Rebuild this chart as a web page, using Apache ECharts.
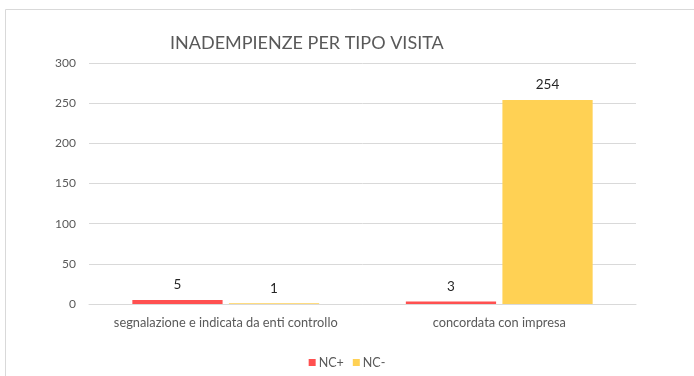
<!DOCTYPE html>
<html>
<head>
<meta charset="utf-8">
<script src="https://cdn.jsdelivr.net/npm/echarts@6/dist/echarts.min.js"></script>
<style>
  html, body { margin: 0; padding: 0; background: #fff; }
  #chart { width: 694px; height: 376px; }
</style>
</head>
<body>
<div id="chart"></div>
<script>
// Visit types and non-compliance counts
const categories = ['segnalazione e indicata da enti controllo', 'concordata con impresa'];
const ncPlus = [5, 3];
const ncMinus = [1, 254];
const yTicks = { min: 0, max: 300, interval: 50 };

const FONT = 'Lato, "Open Sans", sans-serif';
const chart = echarts.init(document.getElementById('chart'), null, { renderer: 'canvas' });

chart.setOption({
  backgroundColor: '#ffffff',
  animation: false,
  textStyle: { fontFamily: FONT },
  graphic: [{
    type: 'rect',
    shape: { x: 5.5, y: 9.5, width: 720, height: 400 },
    style: { fill: 'none', stroke: '#d9d9d9', lineWidth: 1 },
    silent: true
  }],
  title: {
    text: 'INADEMPIENZE PER TIPO VISITA',
    left: 165,
    top: 29,
    textStyle: { fontFamily: FONT, fontSize: 18, fontWeight: 'normal', color: '#595959' }
  },
  legend: {
    bottom: 2,
    left: 'center',
    itemWidth: 7,
    itemHeight: 7,
    itemGap: 9,
    icon: 'rect',
    textStyle: { fontFamily: FONT, fontSize: 12.5, color: '#595959', padding: [0, 0, 0, -2] },
    data: ['NC+', 'NC-']
  },
  grid: { left: 89, right: 58, top: 63, bottom: 72, containLabel: false },
  xAxis: {
    type: 'category',
    data: categories,
    axisLine: { show: true, lineStyle: { color: '#d9d9d9' } },
    axisTick: { show: false },
    axisLabel: { interval: 0, color: '#595959', fontSize: 12.8, fontFamily: FONT, margin: 12 }
  },
  yAxis: {
    type: 'value',
    min: yTicks.min,
    max: yTicks.max,
    interval: yTicks.interval,
    axisLine: { show: false },
    axisTick: { show: false },
    axisLabel: { color: '#595959', fontSize: 12, fontFamily: FONT, margin: 13 },
    splitLine: { lineStyle: { color: '#d9d9d9', width: 1 } }
  },
  series: [
    {
      name: 'NC+',
      type: 'bar',
      data: ncPlus,
      barCategoryGap: '31.7%',
      barGap: '7%',
      itemStyle: { color: '#FF5050' },
      label: { show: true, position: 'top', distance: 8, color: '#262626', fontSize: 13.5, fontFamily: FONT }
    },
    {
      name: 'NC-',
      type: 'bar',
      data: ncMinus,
      barCategoryGap: '31.7%',
      barGap: '7%',
      itemStyle: { color: '#FFD154' },
      label: { show: true, position: 'top', distance: 8, color: '#262626', fontSize: 13.5, fontFamily: FONT }
    }
  ]
});
</script>
</body>
</html>
